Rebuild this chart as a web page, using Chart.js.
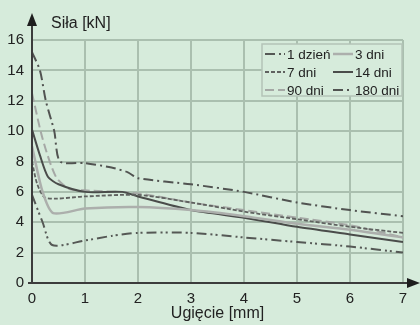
<!DOCTYPE html>
<html><head><meta charset="utf-8">
<script src="https://cdn.jsdelivr.net/npm/chart.js@4/dist/chart.umd.min.js"></script>
<style>html,body{margin:0;padding:0;background:#d6ebdb;}canvas{display:block;}</style>
</head><body>
<canvas id="c" width="420" height="325"></canvas>
<script>
const seriesNames = ['1 dzień', '3 dni', '7 dni', '14 dni', '90 dni', '180 dni'];
const xTicks = [0, 1, 2, 3, 4, 5, 6, 7];
const yTicks = [0, 2, 4, 6, 8, 10, 12, 14, 16];
const xTitle = 'Ugięcie [mm]';
const yTitle = 'Siła [kN]';

const x1d   = [0, 0.2, 0.38, 1, 1.5, 2, 3, 4, 5, 6, 7];
const y1d   = [5.8, 4.0, 2.5, 2.8, 3.1, 3.3, 3.3, 3.0, 2.7, 2.4, 2.0];
const x3d   = [0, 0.2, 0.4, 1, 2, 3, 4, 5, 6, 7];
const y3d   = [9.0, 6.0, 4.6, 4.9, 5.0, 4.8, 4.4, 3.9, 3.5, 3.0];
const x7d   = [0, 0.1, 0.26, 1, 2, 3, 4, 5, 6, 7];
const y7d   = [8.0, 6.5, 5.6, 5.7, 5.8, 5.3, 4.7, 4.2, 3.7, 3.3];
const x14d  = [0, 0.15, 0.3, 0.5, 1, 1.7, 2, 3, 4, 5, 6, 7];
const y14d  = [10.1, 8.4, 7.0, 6.5, 6.0, 6.0, 5.7, 4.8, 4.3, 3.7, 3.2, 2.7];
const x90d  = [0, 0.2, 0.45, 0.7, 1, 2, 3, 4, 5, 6, 7];
const y90d  = [12.5, 9.5, 7.0, 6.2, 6.1, 5.9, 5.3, 4.8, 4.3, 3.8, 3.0];
const x180d = [0, 0.15, 0.26, 0.42, 0.53, 1, 1.5, 1.8, 2, 3, 4, 5, 6, 7];
const y180d = [15.2, 14.0, 12.0, 10.0, 8.0, 7.9, 7.6, 7.3, 6.9, 6.5, 6.0, 5.3, 4.8, 4.4];

const xs = [x1d, x3d, x7d, x14d, x90d, x180d];
const ys = [y1d, y3d, y7d, y14d, y90d, y180d];
const styles = [
  {c: '#555855', w: 2, d: [10, 4, 2, 3, 2, 4]},
  {c: '#acafac', w: 2.5, d: []},
  {c: '#5f615f', w: 1.8, d: [4, 2]},
  {c: '#4a4c4a', w: 2, d: []},
  {c: '#a5a8a5', w: 2, d: [9, 4]},
  {c: '#515351', w: 2, d: [10, 4, 2, 4]}
];

const datasets = seriesNames.map((n, i) => ({
  label: n,
  data: xs[i].map((x, k) => ({x: x, y: ys[i][k]})),
  borderColor: styles[i].c,
  borderWidth: styles[i].w,
  borderDash: styles[i].d,
  pointRadius: 0,
  fill: false,
  tension: 0.25
}));

const BG = '#d6ebdb';
const FONT = '"Liberation Sans", Arial, sans-serif';

const deco = {
  id: 'deco',
  beforeDraw(chart) {
    const ctx = chart.ctx;
    ctx.save();
    ctx.fillStyle = BG;
    ctx.fillRect(0, 0, chart.width, chart.height);
    ctx.restore();
  },
  afterDatasetsDraw(chart) {
    const ctx = chart.ctx;
    const xs_ = chart.scales.x, ys_ = chart.scales.y;
    const x0 = xs_.getPixelForValue(0), y0 = ys_.getPixelForValue(0);
    ctx.save();
    ctx.strokeStyle = '#3c3c3c';
    ctx.fillStyle = '#1e1e1e';
    ctx.lineWidth = 2;
    ctx.beginPath();
    ctx.moveTo(x0, y0); ctx.lineTo(x0, 22);
    ctx.moveTo(x0 - 4, y0); ctx.lineTo(412, y0);
    ctx.stroke();
    ctx.beginPath();
    ctx.moveTo(x0, 13); ctx.lineTo(x0 - 5, 26); ctx.lineTo(x0 + 5, 26); ctx.closePath(); ctx.fill();
    ctx.beginPath();
    ctx.moveTo(420, y0); ctx.lineTo(407, y0 - 5); ctx.lineTo(407, y0 + 5); ctx.closePath(); ctx.fill();
    // y title
    ctx.fillStyle = '#222';
    ctx.font = '16px ' + FONT;
    ctx.textAlign = 'left';
    ctx.textBaseline = 'middle';
    ctx.fillText(yTitle, 51, 24);
    // legend
    const bx = 262, by = 44, bw = 140, bh = 52;
    ctx.fillStyle = BG;
    ctx.fillRect(bx, by, bw, bh);
    ctx.strokeStyle = '#b4c4b8';
    ctx.lineWidth = 1.5;
    ctx.strokeRect(bx, by, bw, bh);
    ctx.font = '13.5px ' + FONT;
    const cols = [265, 333];
    const rows = [54, 72, 90];
    chart.data.datasets.forEach((ds, i) => {
      const cx = cols[i % 2], cy = rows[Math.floor(i / 2)];
      ctx.strokeStyle = ds.borderColor;
      ctx.lineWidth = ds.borderWidth;
      ctx.setLineDash(ds.borderDash);
      ctx.beginPath();
      ctx.moveTo(cx, cy); ctx.lineTo(cx + 20, cy);
      ctx.stroke();
      ctx.setLineDash([]);
      ctx.fillStyle = '#222';
      ctx.fillText(ds.label, cx + 22, cy + 1);
    });
    ctx.restore();
  }
};

new Chart(document.getElementById('c'), {
  type: 'line',
  data: {datasets: datasets},
  options: {
    responsive: false,
    animation: false,
    layout: {padding: {top: 40, right: 17, left: 0, bottom: 0}},
    plugins: {legend: {display: false}, tooltip: {enabled: false}},
    scales: {
      x: {
        type: 'linear', min: 0, max: 7,
        afterBuildTicks: s => { s.ticks = xTicks.map(v => ({value: v})); },
        afterFit: s => { s.height = 42; },
        ticks: {color: '#222', font: {size: 15, family: FONT}, padding: 7},
        grid: {color: '#aabfaf', lineWidth: 2, drawTicks: false},
        border: {display: false},
        title: {display: true, text: xTitle, color: '#222', font: {size: 16, family: FONT}, padding: {top: 0, bottom: 2}}
      },
      y: {
        type: 'linear', min: 0, max: 16,
        afterBuildTicks: s => { s.ticks = yTicks.map(v => ({value: v})); },
        afterFit: s => { s.width = 32; },
        ticks: {color: '#222', font: {size: 15, family: FONT}, padding: 8},
        grid: {color: '#aabfaf', lineWidth: 2, drawTicks: false},
        border: {display: false}
      }
    }
  },
  plugins: [deco]
});
</script>
</body></html>
